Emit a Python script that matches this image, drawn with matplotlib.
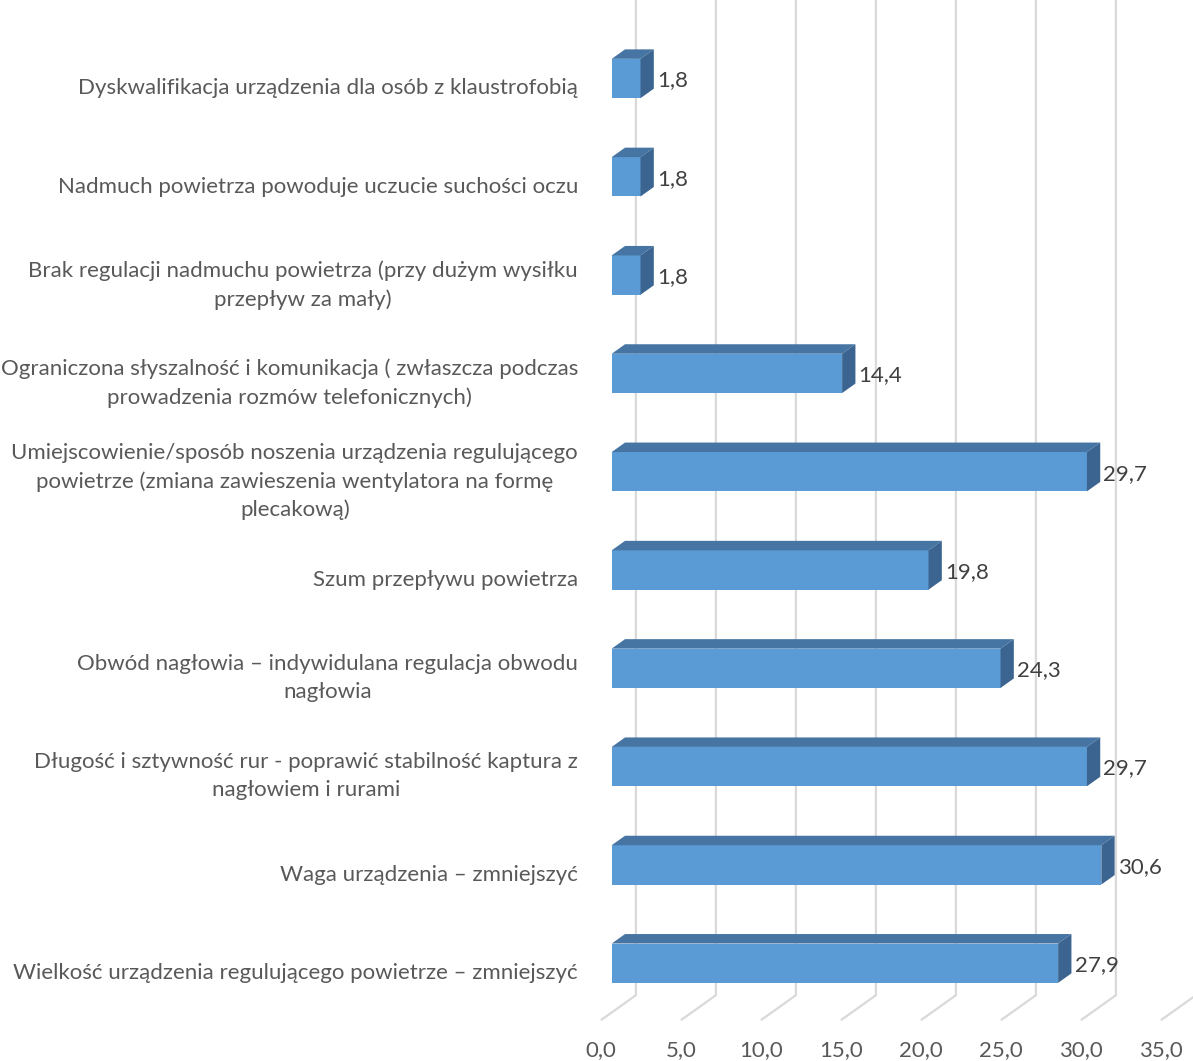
import matplotlib
matplotlib.use("Agg")
import matplotlib.pyplot as plt
from matplotlib.patches import Polygon

plt.rcParams['font.family'] = ['Lato', 'DejaVu Sans']

# data (top to bottom)
categories = [
    "Dyskwalifikacja urządzenia dla osób z klaustrofobią",
    "Nadmuch powietrza powoduje uczucie suchości oczu",
    "Brak regulacji nadmuchu powietrza (przy dużym wysiłku\nprzepływ za mały)",
    "Ograniczona słyszalność i komunikacja ( zwłaszcza podczas\nprowadzenia rozmów telefonicznych)",
    "Umiejscowienie/sposób noszenia urządzenia regulującego\npowietrze (zmiana zawieszenia wentylatora na formę\nplecakową)",
    "Szum przepływu powietrza",
    "Obwód nagłowia – indywidulana regulacja obwodu\nnagłowia",
    "Długość i sztywność rur - poprawić stabilność kaptura z\nnagłowiem i rurami",
    "Waga urządzenia – zmniejszyć",
    "Wielkość urządzenia regulującego powietrze – zmniejszyć",
]
values = [1.8, 1.8, 1.8, 14.4, 29.7, 19.8, 24.3, 29.7, 30.6, 27.9]
ticks = [0, 5, 10, 15, 20, 25, 30, 35]

# 3d look (value units / category units)
DEPTH_X = 2.19      # total floor depth along x
DEPTH_Y = 0.254     # total floor depth along y
FRONT_GAP = 0.31    # fraction of depth in front of the bars
BAR_FRAC = 0.38     # fraction of depth taken by the bars
HALF_H = 0.2        # half height of bar front face
FLOOR_FRONT = 9.58

FRONT_C = '#5b9bd5'
TOP_C = '#4775a3'
SIDE_C = '#3b6590'
GRID_C = '#d9d9d9'
TEXT_C = '#595959'
FS = 16

fig = plt.figure(figsize=(11.93, 10.61), dpi=100)
ax = fig.add_axes([0, 0, 1, 1])
ax.set_xlim(-38.23, 36.33)
ax.set_ylim(9.995, -0.7986)
ax.axis('off')

bdx = DEPTH_X * BAR_FRAC
bdy = DEPTH_Y * BAR_FRAC
# gridlines: wall + floor
wall_dx = DEPTH_X * (1 - FRONT_GAP)
front_dx = -DEPTH_X * FRONT_GAP
floor_back = FLOOR_FRONT - DEPTH_Y
for t in ticks:
    ax.plot([t + wall_dx, t + wall_dx, t + front_dx], [-0.8, floor_back, FLOOR_FRONT],
            color=GRID_C, lw=1.6, zorder=1, solid_capstyle='butt')
    ax.text(t + front_dx, FLOOR_FRONT + 0.30, f"{t:.1f}".replace('.', ','),
            ha='center', va='center', fontsize=FS, color=TEXT_C)

for i, (lab, v) in enumerate(zip(categories, values)):
    top, bot = i - HALF_H, i + HALF_H
    ax.add_patch(Polygon([(0, top), (v, top), (v, bot), (0, bot)],
                         closed=True, facecolor=FRONT_C, edgecolor='none', zorder=3))
    ax.add_patch(Polygon([(0, top), (v, top), (v + bdx, top - bdy), (bdx, top - bdy)],
                         closed=True, facecolor=TOP_C, edgecolor='none', zorder=3))
    ax.add_patch(Polygon([(v, top), (v + bdx, top - bdy), (v + bdx, bot - bdy), (v, bot)],
                         closed=True, facecolor=SIDE_C, edgecolor='none', zorder=3))
    ax.text(v + bdx + 0.2, i + 0.02, f"{v:.1f}".replace('.', ','),
            ha='left', va='center', fontsize=FS, color='#404040', zorder=4)
    ax.text(-2.1, i + 0.1, lab, ha='right', va='center', multialignment='center',
            fontsize=FS, color=TEXT_C, linespacing=1.5)

fig.savefig('out.png', dpi=100)
